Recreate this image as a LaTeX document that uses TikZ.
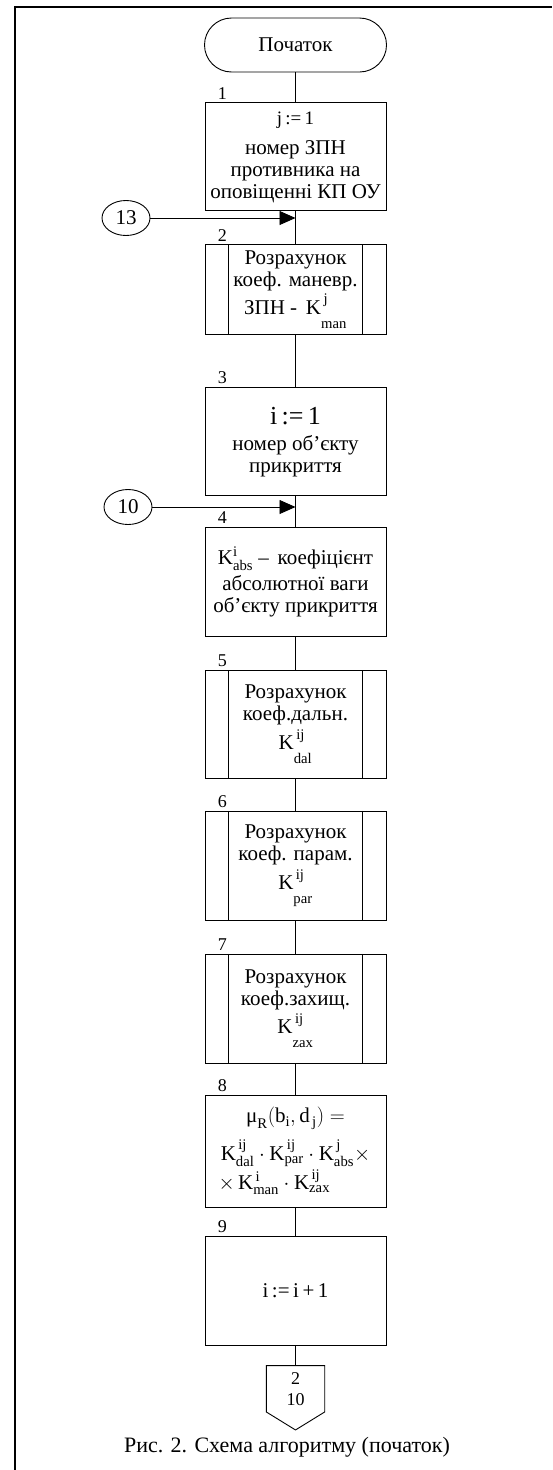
\documentclass[tikz,border=0pt]{standalone}
\usepackage{amsmath}
\usepackage{fontspec}
\setmainfont{Liberation Serif}
\usetikzlibrary{arrows.meta, positioning, shapes.geometric, calc}

\begin{document}
\begin{tikzpicture}[
    x=1pt, y=1pt,
    node distance=30pt,
    every node/.style={font=\fontsize{21}{22}\selectfont},
    term/.style={rectangle, draw, rounded corners=27pt, minimum width=182pt, minimum height=54pt, line width=0.9pt},
    box/.style={rectangle, draw, minimum width=181pt, align=center, inner sep=1pt, line width=0.9pt},
    num/.style={inner sep=0pt, font=\fontsize{18}{18}\selectfont},
    conn/.style={ellipse, draw, minimum width=48pt, minimum height=35pt, inner sep=0pt, line width=0.9pt},
    line/.style={line width=0.9pt},
    arrow/.style={-{Triangle[length=16pt, width=14pt]}, line width=0.9pt},
    frame/.style={line width=2.2pt}
]
\useasboundingbox (0,0) rectangle (552,-1470);
\draw[frame] (15,-1470) -- (15,-7) -- (552,-7);

\node[term] (start) at (295.5,-45) {Початок};
\node[box, below=30pt of start, minimum height=108pt] (b1)
    {{\fontsize{19}{20}\selectfont j\,:=\,1}\\[8pt] номер ЗПН\\ противника на\\ оповіщенні КП ОУ};
\node[box, below=33pt of b1, minimum height=90pt] (b2)
    {Розрахунок\\ коеф. маневр.\\[2pt] ЗПН -\, $\text{K}^{\,\text{j}}_{\rule{0pt}{18pt}\text{man}}$};
\node[box, below=52pt of b2, minimum height=108pt] (b3)
    {{\fontsize{26}{28}\selectfont i\,:=\,1}\\[4pt] номер об’єкту\\ прикриття};
\node[box, below=31pt of b3, minimum height=109pt] (b4)
    {$\text{K}^{\text{i}}_{\text{abs}}$ –\, коефіцієнт\\[4pt] абсолютної ваги\\ об’єкту прикриття};
\node[box, below=33pt of b4, minimum height=108pt] (b5)
    {Розрахунок\\ коеф.дальн.\\[3pt] $\text{K}^{\,\text{ij}}_{\rule{0pt}{18pt}\text{dal}}$};
\node[box, below=32pt of b5, minimum height=109pt] (b6)
    {Розрахунок\\ коеф. парам.\\[3pt] $\text{K}^{\,\text{ij}}_{\rule{0pt}{18pt}\text{par}}$};
\node[box, below=33pt of b6, minimum height=109pt] (b7)
    {Розрахунок\\ коеф.захищ.\\[3pt] $\text{K}^{\,\text{ij}}_{\rule{0pt}{18pt}\text{zax}}$};
\node[box, below=31pt of b7, minimum height=112pt] (b8)
    {$\text{μ}_{\text{R}}(\text{b}_{\text{i}},\text{d}_{\,\text{j}}) =$\\[10pt]
     $\text{K}^{\,\text{ij}}_{\text{dal}}\cdot\text{K}^{\,\text{ij}}_{\text{par}}\cdot\text{K}^{\,\text{j}}_{\text{abs}}\times$\\[2pt]
     \makebox[154pt][l]{$\times\,\text{K}^{\,\text{i}}_{\text{man}}\cdot\text{K}^{\,\text{ij}}_{\text{zax}}$}};
\node[box, below=28pt of b8, minimum height=109pt] (b9) {i\,:=\,i\,+\,1};
\node[below=20pt of b9, minimum width=58pt, minimum height=46pt, inner sep=0pt, align=center,
      font=\fontsize{18}{21}\selectfont] (off) {2\\10};
\node[font=\fontsize{22}{24}\selectfont] (cap) at (287,-1447) {Рис. 2. Схема алгоритму (початок)};

% block numbers
\foreach \b/\n in {b1/1, b2/2, b3/3, b4/4, b5/5, b6/6, b7/7, b8/8, b9/9}
    \node[num, above right=3pt and 13pt of \b.north west] (n\n) {\n};

% side lines of predefined processes
\foreach \b in {b2, b5, b6, b7} {
    \draw[line] ([xshift=24pt]\b.north west) -- ([xshift=24pt]\b.south west);
    \draw[line] ([xshift=-24pt]\b.north east) -- ([xshift=-24pt]\b.south east);
}

% off-page connector
\draw[line] (off.south west) -- (off.north west) -- (off.north east) -- (off.south east)
    -- ($(off.south)+(0,-18)$) -- cycle;

% flow
\foreach \a/\b in {start/b1, b1/b2, b2/b3, b3/b4, b4/b5, b5/b6, b6/b7, b7/b8, b8/b9, b9/off}
    \draw[line] (\a) -- (\b);

% connectors in
\node[conn] (c13) at (126,-218) {13};
\node[conn] (c10) at (128,-507) {10};
\draw[arrow] (c13) -- (c13 -| b1.south);
\draw[arrow] (c10) -- (c10 -| b3.south);
\end{tikzpicture}
\end{document}
